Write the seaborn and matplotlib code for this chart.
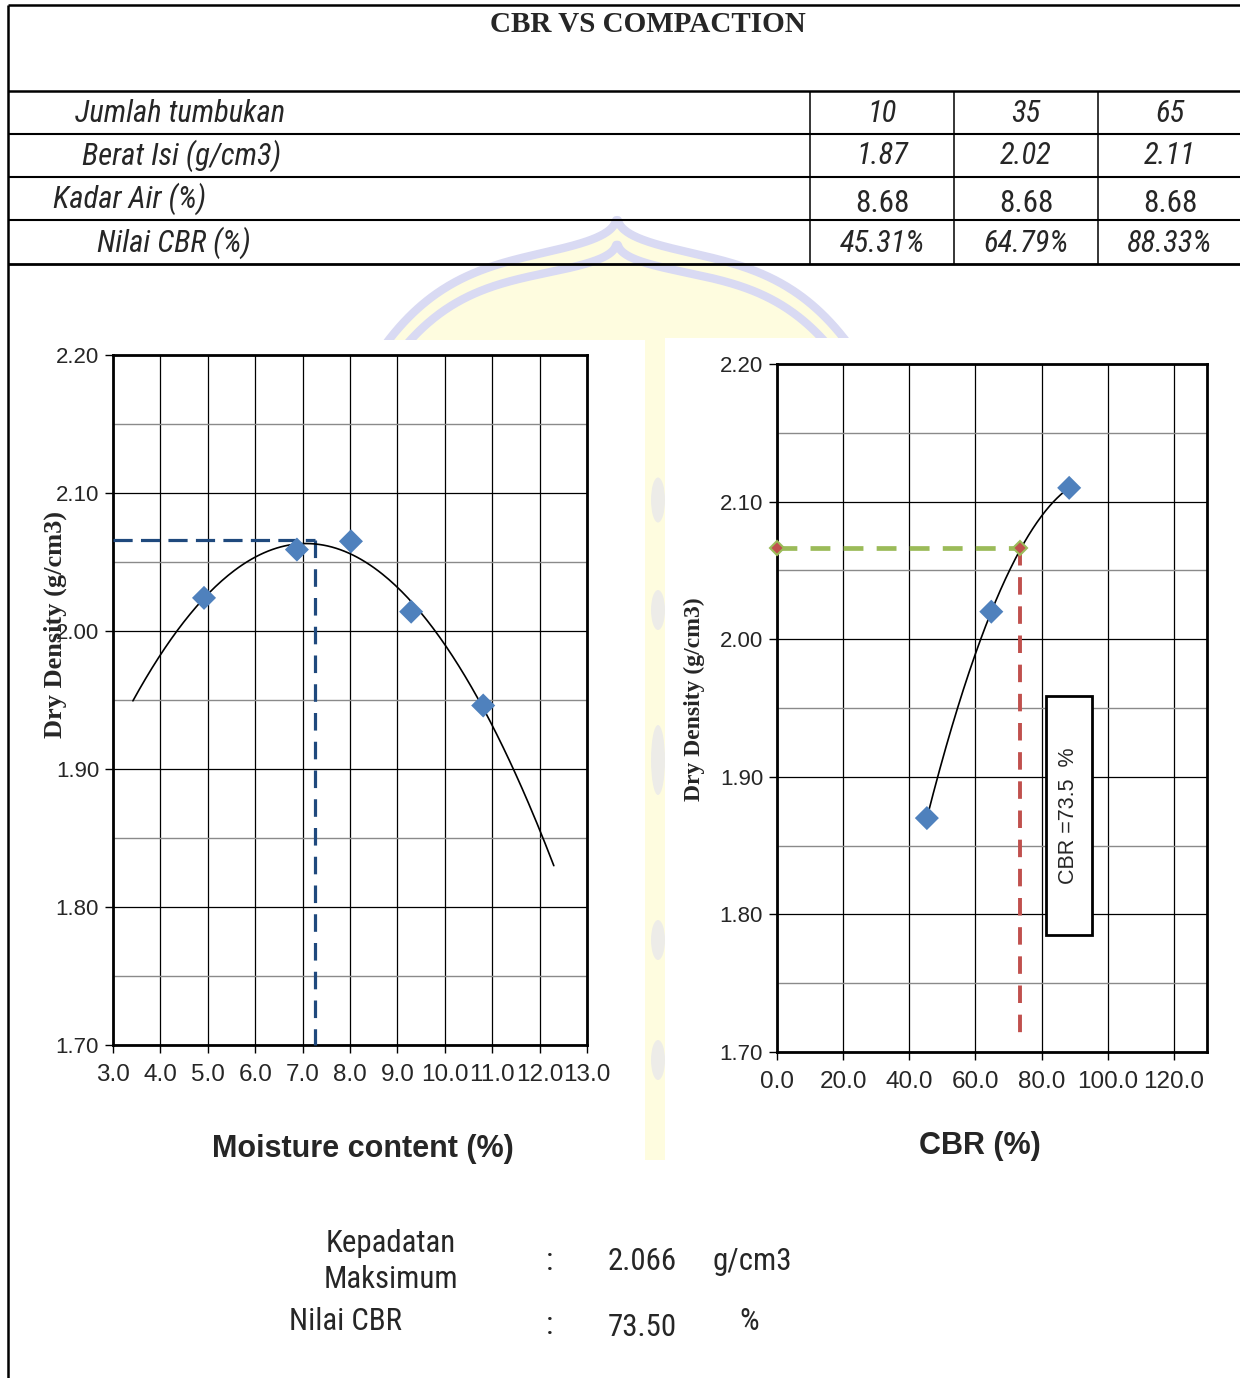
import numpy as np
import pandas as pd
import matplotlib
matplotlib.use("Agg")
import matplotlib.pyplot as plt
from matplotlib.patches import Rectangle, Polygon, Ellipse
from matplotlib.ticker import MultipleLocator, FormatStrFormatter
from matplotlib import font_manager
from matplotlib.font_manager import FontProperties
from matplotlib.textpath import TextPath
import seaborn as sns

# ---- data -------------------------------------------------------------
blows = [10, 35, 65]
density_by_blows = [1.87, 2.02, 2.11]
water_content = [8.68, 8.68, 8.68]
cbr_values = [45.31, 64.79, 88.33]

moisture = [4.92, 6.88, 8.02, 9.29, 10.81]
dry_density = [2.024, 2.059, 2.065, 2.014, 1.946]

max_dry_density = 2.066
optimum_moisture = 7.26
cbr_design = 73.50

trend_range_moisture = [3.42, 12.30]

# ---- fonts ------------------------------------------------------------
sns.set_style("white")
SANS = ["Liberation Sans", "DejaVu Sans"]
SERIF = ["Liberation Serif", "DejaVu Serif"]
plt.rcParams["font.family"] = SANS

installed = {f.name for f in font_manager.fontManager.ttflist}
narrow_pick = next((n for n in ["Liberation Sans Narrow", "Arial Narrow",
                                "Roboto Condensed", "DejaVu Sans Condensed",
                                "Noto Sans Condensed", "Liberation Sans"]
                    if n in installed), "DejaVu Sans")
NARROW = [narrow_pick, "DejaVu Sans"]


def size_for_width(text, family, target_px, base=23.0, style="normal"):
    """Point size at which `text` spans roughly `target_px` pixels (100 dpi)."""
    prop = FontProperties(family=family, style=style, size=base)
    w_pt = TextPath((0, 0), text, prop=prop).get_extents().width
    w_px = w_pt * 100 / 72
    return min(base, base * target_px / w_px) if w_px > 0 else base


TABLE_FS = size_for_width("Jumlah tumbukan", NARROW, 208, style="italic")
NUM_FS = size_for_width("8.68", NARROW, 51)
SUM_FS = size_for_width("Kepadatan", NARROW, 126)

W, H = 1240, 1378
fig = plt.figure(figsize=(W / 100, H / 100), dpi=100)
fig.patch.set_facecolor("white")


def fx(x):
    return x / W


def fy(y):
    return 1 - y / H


# background layer in pixel units: table, emblem, summary text
bg = fig.add_axes([0, 0, 1, 1])
bg.set_xlim(0, W)
bg.set_ylim(H, 0)
bg.axis("off")

# faint emblem behind the charts
lav = "#d9daf3"
yel = "#fefcdf"
t = np.linspace(-1, 1, 300)
ogee = 0.45 * np.abs(t) ** 0.35 + 0.55 * np.abs(t) ** 4
ox = 617 + 232 * t
oy = 212 + 133 * ogee
poly = np.column_stack([np.r_[ox, 849, 385], np.r_[oy, 1160, 1160]])
bg.add_patch(Polygon(poly, closed=True, fc=yel, ec="none", zorder=0))
bg.plot(ox, oy, color=lav, lw=6, zorder=1, solid_capstyle="round")
ix = 617 + 215 * t
iy = 238 + 112 * ogee
bg.plot(ix, iy, color=lav, lw=6, zorder=1)
for cy, hh in [(500, 45), (610, 40), (760, 70), (940, 40), (1060, 40)]:
    bg.add_patch(Ellipse((658, cy), 14, hh, fc=lav, ec="none", alpha=0.45, zorder=1))

# white chart areas
bg.add_patch(Rectangle((30, 340), 615, 825, fc="white", ec="none", zorder=2))
bg.add_patch(Rectangle((665, 338), 575, 834, fc="white", ec="none", zorder=2))

# table grid
lk = dict(color="black", zorder=5, solid_capstyle="butt")
bg.plot([8, W], [5, 5], lw=1.8, **lk)
bg.plot([8, 8], [5, H], lw=1.8, **lk)
for yy, lw in [(91, 1.8), (134, 1.5), (177, 1.5), (220, 1.5), (264, 2.0)]:
    bg.plot([8, W], [yy, yy], lw=lw, **lk)
for xx in (810, 954, 1098):
    bg.plot([xx, xx], [91, 264], lw=1.1, **lk)

bg.text(648, 25, "CBR VS COMPACTION", ha="center", va="center",
        family=SERIF, weight="bold", fontsize=21, zorder=6)

row_y = [113, 156, 199, 243]
row_labels = ["Jumlah tumbukan", "Berat Isi (g/cm3)", "Kadar Air (%)", "Nilai CBR (%)"]
row_x = [75, 82, 53, 97]
for lab, xx, yy in zip(row_labels, row_x, row_y):
    bg.text(xx, yy, lab, ha="left", va="center", family=NARROW,
            style="italic", fontsize=TABLE_FS, zorder=6)

col_x = [882, 1026, 1170]
for i, cx in enumerate(col_x):
    bg.text(cx, row_y[0], f"{blows[i]}", ha="center", va="center",
            family=NARROW, style="italic", fontsize=TABLE_FS, zorder=6)
    bg.text(cx, row_y[1], f"{density_by_blows[i]:.2f}", ha="center", va="center",
            family=NARROW, style="italic", fontsize=TABLE_FS, zorder=6)
    bg.text(cx, 203, f"{water_content[i]:.2f}", ha="center", va="center",
            family=NARROW, fontsize=NUM_FS, zorder=6)
    bg.text(cx, row_y[3], f"{cbr_values[i]:.2f}%", ha="center", va="center",
            family=NARROW, style="italic", fontsize=TABLE_FS, zorder=6)

# summary block
sk = dict(family=NARROW, fontsize=SUM_FS, va="center", zorder=6)
bg.text(391, 1244, "Kepadatan", ha="center", **sk)
bg.text(391, 1280, "Maksimum", ha="center", **sk)
bg.text(289, 1322, "Nilai CBR", ha="left", **sk)
bg.text(549, 1262, ":", ha="center", **sk)
bg.text(549, 1325, ":", ha="center", **sk)
bg.text(608, 1262, f"{max_dry_density:.3f}", ha="left", **sk)
bg.text(713, 1262, "g/cm3", ha="left", **sk)
bg.text(608, 1327, f"{cbr_design:.2f}", ha="left", **sk)
bg.text(749, 1322, "%", ha="center", **sk)

# ---- chart helpers ----------------------------------------------------
MARK = "#4F81BD"


def style_axes(ax):
    ax.set_facecolor("white")
    ax.set_ylim(1.70, 2.20)
    ax.yaxis.set_major_locator(MultipleLocator(0.10))
    ax.yaxis.set_minor_locator(MultipleLocator(0.05))
    ax.yaxis.set_major_formatter(FormatStrFormatter("%.2f"))
    ax.xaxis.set_major_formatter(FormatStrFormatter("%.1f"))
    ax.grid(which="major", color="black", lw=0.9)
    ax.grid(which="minor", axis="y", color="#8a8a8a", lw=1.0)
    ax.set_axisbelow(True)
    for s in ax.spines.values():
        s.set_visible(True)
        s.set_color("black")
        s.set_linewidth(2.0)
    ax.tick_params(which="major", direction="out", length=6, width=1,
                   color="black", bottom=True, left=True)
    ax.tick_params(axis="y", labelsize=16, pad=4)
    ax.tick_params(axis="x", labelsize=17.5, pad=8)
    ax.tick_params(which="minor", length=0)
    ax.set_xlabel("")
    ax.set_ylabel("")


# ---- left chart: compaction curve ------------------------------------
axL = fig.add_axes([fx(113), fy(1045), (587 - 113) / W, (1045 - 355) / H])
df_c = pd.DataFrame({"moisture": moisture, "density": dry_density})
coef_c = np.polyfit(df_c["moisture"], df_c["density"], 2)
xs = np.linspace(trend_range_moisture[0], trend_range_moisture[1], 200)
trend_c = pd.DataFrame({"moisture": xs, "density": np.polyval(coef_c, xs)})

axL.plot([3.0, optimum_moisture], [max_dry_density, max_dry_density],
         color="#1F497D", lw=2.3, dashes=(6, 2.6), zorder=3, clip_on=False)
axL.plot([optimum_moisture, optimum_moisture], [max_dry_density, 1.70],
         color="#1F497D", lw=2.3, dashes=(5.5, 3.5), zorder=3, clip_on=False)
sns.lineplot(data=trend_c, x="moisture", y="density", color="black", lw=1.2,
             ax=axL, sort=False, estimator=None, zorder=4)
sns.scatterplot(data=df_c, x="moisture", y="density", marker="D", s=150,
                color=MARK, edgecolor="none", ax=axL, zorder=5)
axL.set_xlim(3.0, 13.0)
axL.xaxis.set_major_locator(MultipleLocator(1.0))
style_axes(axL)

fig.text(fx(363), fy(1149), "Moisture content (%)", ha="center", va="center",
         family=SANS, weight="bold", fontsize=22)
fig.text(fx(55), fy(624), "Dry Density (g/cm3)", ha="center", va="center",
         rotation=90, family=SERIF, weight="bold", fontsize=19)

# ---- right chart: CBR vs density --------------------------------------
axR = fig.add_axes([fx(777), fy(1052), (1207 - 777) / W, (1052 - 364) / H])
df_b = pd.DataFrame({"cbr": cbr_values, "density": density_by_blows})
coef_b = np.polyfit(df_b["cbr"], df_b["density"], 2)
xb = np.linspace(min(cbr_values), max(cbr_values), 200)
trend_b = pd.DataFrame({"cbr": xb, "density": np.polyval(coef_b, xb)})

axR.plot([0, cbr_design], [max_dry_density, max_dry_density], color="#9BBB59",
         lw=3.4, dashes=(4.2, 2.8), zorder=3, clip_on=False)
axR.plot([cbr_design, cbr_design], [max_dry_density, 1.708], color="#C0504D",
         lw=2.8, dashes=(4.5, 3.0), zorder=3)
axR.plot([0, cbr_design], [max_dry_density, max_dry_density], ls="none",
         marker="D", ms=7, mfc="#C0504D", mec="#9BBB59", mew=1.5, zorder=6,
         clip_on=False)
sns.lineplot(data=trend_b, x="cbr", y="density", color="black", lw=1.2,
             ax=axR, sort=False, estimator=None, zorder=4)
sns.scatterplot(data=df_b, x="cbr", y="density", marker="D", s=150,
                color=MARK, edgecolor="none", ax=axR, zorder=5)
axR.add_patch(Rectangle((81.2, 1.785), 14.1, 0.174, fc="white", ec="black",
                        lw=2.0, zorder=7))
axR.text(88.25, 1.872, f"CBR ={cbr_design:.1f}  %", rotation=90, ha="center",
         va="center", family=SANS, fontsize=15.5, zorder=8)
axR.set_xlim(0, 130)
axR.set_xticks(np.arange(0, 121, 20))
style_axes(axR)

fig.text(fx(980), fy(1146), "CBR (%)", ha="center", va="center",
         family=SANS, weight="bold", fontsize=22)
fig.text(fx(694), fy(699), "Dry Density (g/cm3)", ha="center", va="center",
         rotation=90, family=SERIF, weight="bold", fontsize=17)

fig.savefig("out.png", dpi=100, facecolor="white")
